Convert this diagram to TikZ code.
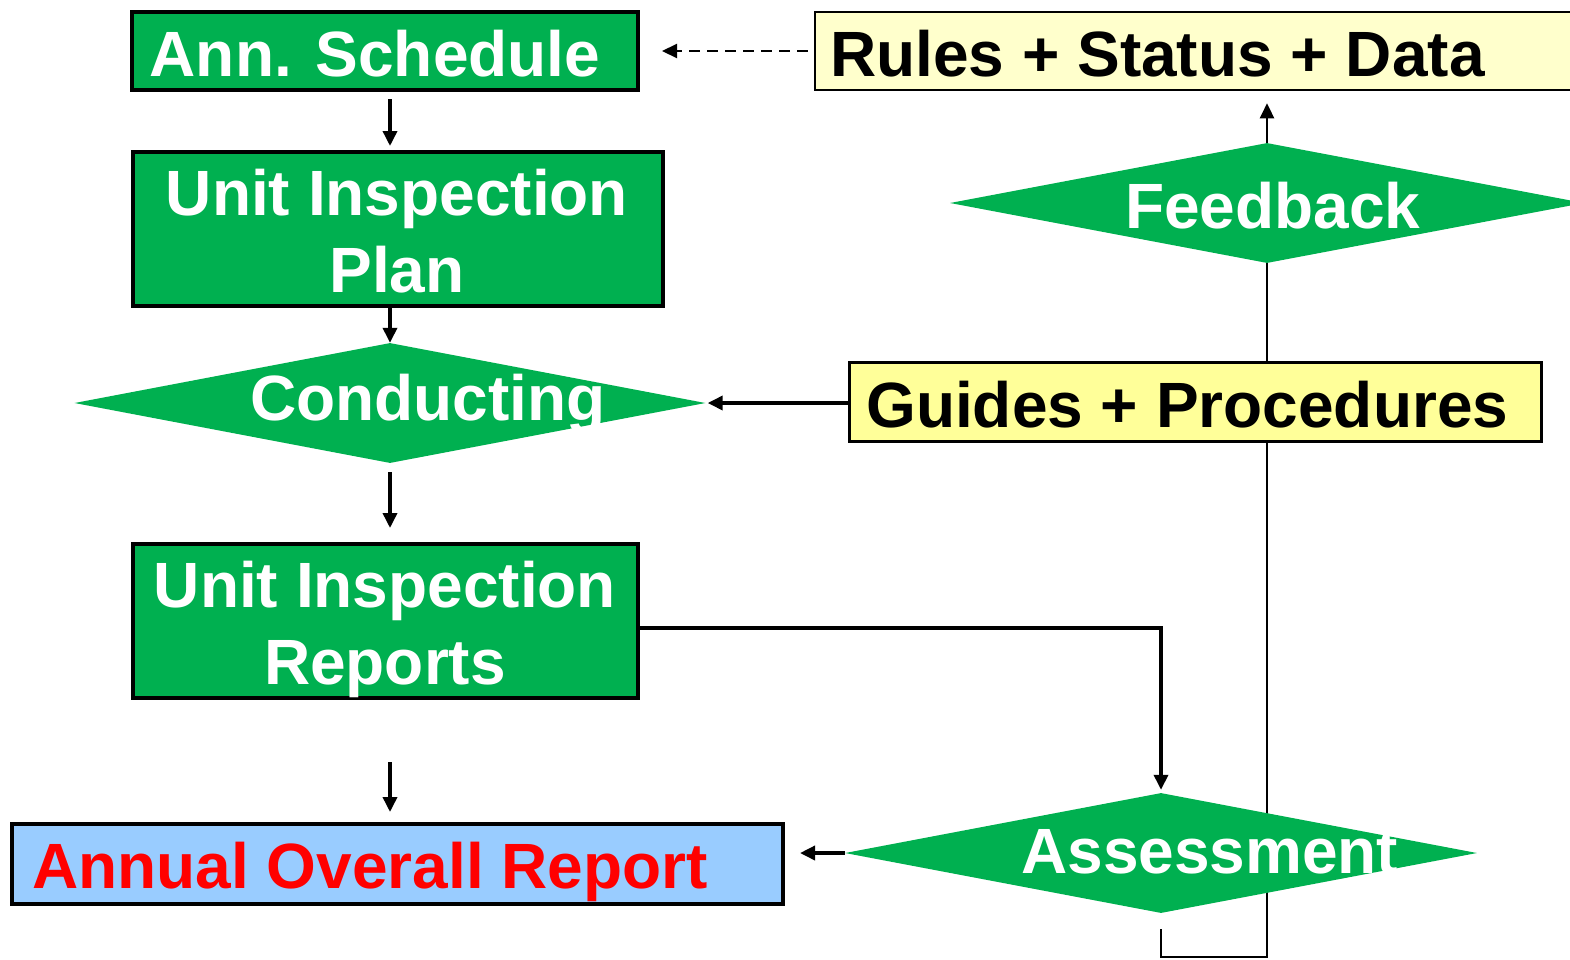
\documentclass[tikz,border=0pt]{standalone}
\usepackage{fontspec}
\setmainfont{Liberation Sans}
\usetikzlibrary{shapes.geometric,arrows.meta,backgrounds,calc}

\definecolor{boxgreen}{RGB}{0,176,80}
\definecolor{paleyellow}{RGB}{255,255,204}
\definecolor{lightyellow}{RGB}{255,255,153}
\definecolor{skyblue}{RGB}{153,204,255}
\definecolor{alertred}{RGB}{255,0,0}

\begin{document}
\begin{tikzpicture}[x=1pt,y=-1pt,
  caption/.style={font=\fontsize{64}{77}\selectfont\bfseries, inner sep=0pt, anchor=base},
  greenbox/.style={draw=black, line width=4pt, fill=boxgreen, inner sep=0pt},
  notebox/.style={draw=black, inner sep=0pt},
  decision/.style={diamond, fill=boxgreen, inner sep=0pt, minimum width=632pt, minimum height=120pt},
  tip/.style={-{Triangle[length=15pt,width=14pt]}},
  flow/.style={tip, line width=3.5pt},
  thinflow/.style={tip, line width=2.2pt},
]
\useasboundingbox (0,0) rectangle (1570,959);
\clip (0,0) rectangle (1570,959);

% boxes
\node[greenbox, minimum width=506pt, minimum height=78pt] (sched) at (385,51) {};
\node[notebox, line width=2.5pt, fill=paleyellow, minimum width=785pt, minimum height=78pt] (rules) at (1207.5,51) {};
\node[greenbox, minimum width=530pt, minimum height=154pt] (plan) at (398,229) {};
\node[notebox, line width=3pt, fill=lightyellow, minimum width=692pt, minimum height=79pt] (guides) at (1195.5,402) {};
\node[greenbox, minimum width=505pt, minimum height=154pt] (reports) at (385.5,621) {};
\node[greenbox, fill=skyblue, minimum width=771pt, minimum height=80pt] (annual) at (397.5,864) {};

% decisions
\node[decision, minimum width=634pt] (feed) at (1267,203) {};
\node[decision, minimum width=631pt] (cond) at (390,403) {};
\node[decision] (assess) at (1161,853) {};

% labels
\node[caption, white] (schedT) at (375,76) {Ann. Schedule};
\node[caption, anchor=base west] (rulesT) at (830,76) {Rules + Status + Data};
\node[caption, white, anchor=base west] (feedT) at (1125,228) {Feedback};
\node[caption, white] (planT1) at (397,215) {Unit Inspection};
\node[caption, white] (planT2) at (397,292) {Plan};
\node[caption, white, anchor=base west] (condT) at (250,420) {Conducting};
\node[caption, anchor=base west] (guidesT) at (866,427) {Guides + Procedures};
\node[caption, white] (repT1) at (385,607) {Unit Inspection};
\node[caption, white] (repT2) at (385,684) {Reports};
\node[caption, white, anchor=base west] (assessT) at (1021,873) {Assessment};
\node[caption, alertred, anchor=base west] (annualT) at (32,888) {Annual Overall Report};

% main flow
\draw[flow] ($(cond.north |- sched.south)+(0,7)$) -- ($(cond.north |- plan.north)+(0,-4)$);
\draw[flow] ($(cond.north |- plan.south)+(0,-4)$) -- (cond.north);
\draw[flow] ($(cond.south)+(0,9)$) -- ($(cond.south |- reports.north)+(0,-14)$);
\coordinate (gap) at ($(cond.south |- annual.north)+(0,-60)$);
\draw[flow] (gap) -- ($(cond.south |- annual.north)+(0,-10)$);

% side inputs
\draw[thinflow, dash pattern=on 11pt off 7pt] ($(rules.west)+(-6,0)$) -- ($(sched.east)+(22,0)$);
\draw[flow] (guides.west |- cond.east) -- ($(cond.east)+(2,0)$);
\draw[flow] ($(reports.east)+(0,7)$) -| ($(assess.north)+(0,-3)$);
\draw[flow] (assess.west) -- ($(annual.east |- assess.west)+(15,0)$);

% feedback loop, running behind the shapes
\begin{scope}[on background layer]
  \draw[thinflow] ($(assess.south)+(0,16)$) -- ++(0,28) -| ($(feed.north |- rules.south)+(0,12)$);
\end{scope}
\end{tikzpicture}
\end{document}
